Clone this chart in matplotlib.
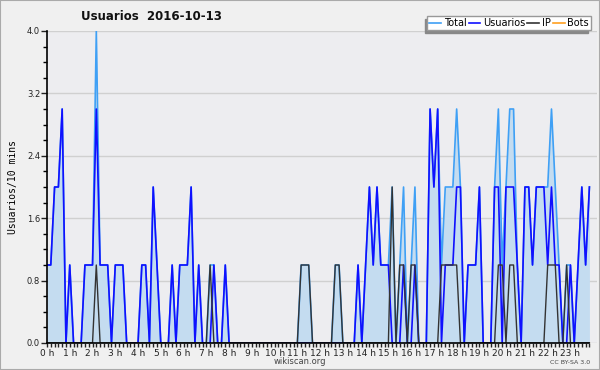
import matplotlib
matplotlib.use("Agg")
import matplotlib.pyplot as plt
from matplotlib.lines import Line2D
from matplotlib.patches import Rectangle
import numpy as np

# 10-minute slots over the day (144 slots)
slots = np.arange(144)
hour_labels = [f"{h} h" for h in range(24)]

usuarios = [
    1, 1, 2, 2, 3, 0, 1, 0, 0, 0,
    1, 1, 1, 3, 1, 1, 1, 0, 1, 1,
    1, 0, 0, 0, 0, 1, 1, 0, 2, 1,
    0, 0, 0, 1, 0, 1, 1, 1, 2, 0,
    1, 0, 0, 0, 1, 0, 0, 1, 0, 0,
    0, 0, 0, 0, 0, 0, 0, 0, 0, 0,
    0, 0, 0, 0, 0, 0, 0, 0, 0, 0,
    0, 0, 0, 0, 0, 0, 0, 0, 0, 0,
    0, 0, 1, 0, 1, 2, 1, 2, 1, 1,
    1, 0, 0, 0, 1, 0, 0, 1, 0, 0,
    0, 3, 2, 3, 0, 1, 1, 1, 2, 2,
    0, 1, 1, 1, 2, 0, 0, 0, 2, 2,
    0, 2, 2, 2, 1, 0, 2, 2, 1, 2,
    2, 2, 1, 2, 1, 1, 0, 0, 1, 0,
    1, 2, 1, 2,
]

ip = [
    0, 0, 0, 0, 0, 0, 0, 0, 0, 0,
    0, 0, 0, 1, 0, 0, 0, 0, 0, 0,
    0, 0, 0, 0, 0, 0, 0, 0, 0, 0,
    0, 0, 0, 0, 0, 0, 0, 0, 0, 0,
    0, 0, 0, 1, 0, 0, 0, 0, 0, 0,
    0, 0, 0, 0, 0, 0, 0, 0, 0, 0,
    0, 0, 0, 0, 0, 0, 0, 1, 1, 1,
    0, 0, 0, 0, 0, 0, 1, 1, 0, 0,
    0, 0, 0, 0, 0, 0, 0, 0, 0, 0,
    0, 2, 0, 1, 1, 0, 1, 1, 0, 0,
    0, 0, 0, 0, 1, 1, 1, 1, 1, 0,
    0, 0, 0, 0, 0, 0, 0, 0, 0, 1,
    1, 0, 1, 1, 0, 0, 0, 0, 0, 0,
    0, 0, 1, 1, 1, 0, 0, 1, 0, 0,
    0, 0, 0, 0,
]

total = [
    1, 1, 2, 2, 3, 0, 1, 0, 0, 0,
    1, 1, 1, 4, 1, 1, 1, 0, 1, 1,
    1, 0, 0, 0, 0, 1, 1, 0, 2, 1,
    0, 0, 0, 1, 0, 1, 1, 1, 2, 0,
    1, 0, 0, 1, 1, 0, 0, 1, 0, 0,
    0, 0, 0, 0, 0, 0, 0, 0, 0, 0,
    0, 0, 0, 0, 0, 0, 0, 1, 1, 1,
    0, 0, 0, 0, 0, 0, 1, 1, 0, 0,
    0, 0, 1, 0, 1, 2, 1, 2, 1, 1,
    1, 2, 0, 1, 2, 0, 1, 2, 0, 0,
    0, 3, 2, 3, 1, 2, 2, 2, 3, 2,
    0, 1, 1, 1, 2, 0, 0, 0, 2, 3,
    1, 2, 3, 3, 1, 0, 2, 2, 1, 2,
    2, 2, 2, 3, 2, 1, 0, 1, 1, 0,
    1, 2, 1, 2,
]

bots = [0] * 144

c_total = '#3fa0f5'
c_fill = '#c4dcf0'
c_users = '#1010ff'
c_ip = '#333333'
c_bots = '#ffa020'

fig = plt.figure(figsize=(6, 3.7), dpi=100, facecolor='#f0f0f0')
fig.patches.append(Rectangle((0, 0), 1, 1, transform=fig.transFigure,
                             fill=False, edgecolor='#aaaaaa', linewidth=1.5))

ax = fig.add_axes([47 / 600, 1 - 343 / 370, 550 / 600, 312 / 370])
ax.set_facecolor('#ededf0')

ax.plot(slots, bots, color=c_bots, linewidth=1, zorder=1)
ax.fill_between(slots, total, 0, color=c_fill, linewidth=0, zorder=2)
ax.plot(slots, total, color=c_total, linewidth=1.2, zorder=3)
ax.plot(slots, usuarios, color=c_users, linewidth=1.2, zorder=4)
ax.plot(slots, ip, color=c_ip, linewidth=1.0, zorder=5)

ax.set_xlim(0, 145)
ax.set_ylim(0, 4)

ax.set_yticks(np.arange(0, 4.01, 0.8))
ax.set_yticks(np.arange(0, 4.01, 0.2), minor=True)
ax.set_yticklabels([f"{v:.1f}" for v in np.arange(0, 4.01, 0.8)])
ax.set_xticks(np.arange(0, 144, 6))
ax.set_xticklabels(hour_labels)
ax.set_xticks(slots, minor=True)

ax.tick_params(axis='y', which='major', length=4, width=1, labelsize=6, pad=1, colors='#222222')
ax.tick_params(axis='y', which='minor', length=3, width=1)
ax.tick_params(axis='x', which='both', length=3, width=1, labelsize=6.5, pad=1, colors='#222222')

ax.grid(axis='y', which='major', color='#d0d0d0', linewidth=1, zorder=0)
ax.set_axisbelow(True)
for side in ['top', 'right']:
    ax.spines[side].set_visible(False)
for side in ['left', 'bottom']:
    ax.spines[side].set_color('#000000')
    ax.spines[side].set_linewidth(1.2)
    ax.spines[side].set_zorder(6)
ax.spines['bottom'].set_bounds(0, 143)

ax.set_ylabel('Usuarios/10 mins', family='DejaVu Sans Mono', fontsize=7, labelpad=6)

fig.text(151 / 600, 1 - 17 / 370, 'Usuarios  2016-10-13', ha='center', va='center',
         fontsize=8.5, fontweight='bold', color='#111111')
fig.text(300 / 600, 1 - 361 / 370, 'wikiscan.org', ha='center', va='center',
         fontsize=6, color='#444444')
fig.text(590 / 600, 1 - 362 / 370, 'CC BY-SA 3.0', ha='right', va='center',
         fontsize=4.5, color='#444444')

handles = [Line2D([], [], color=c, linewidth=1.2) for c in (c_total, c_users, c_ip, c_bots)]
leg = fig.legend(handles, ['Total', 'Usuarios', 'IP', 'Bots'], ncol=4,
                 loc='upper right', bbox_to_anchor=(591 / 600, 1 - 16 / 370),
                 fontsize=7, frameon=True, fancybox=False,
                 shadow={'ox': -2, 'oy': -2, 'color': '#888888', 'alpha': 1},
                 handlelength=1.2, handletextpad=0.3, columnspacing=0.2,
                 borderpad=0.2, borderaxespad=0)
leg.get_frame().set_facecolor('white')
leg.get_frame().set_edgecolor('#999999')
leg.get_frame().set_linewidth(1)

fig.savefig('out.png', dpi=100, facecolor=fig.get_facecolor())
